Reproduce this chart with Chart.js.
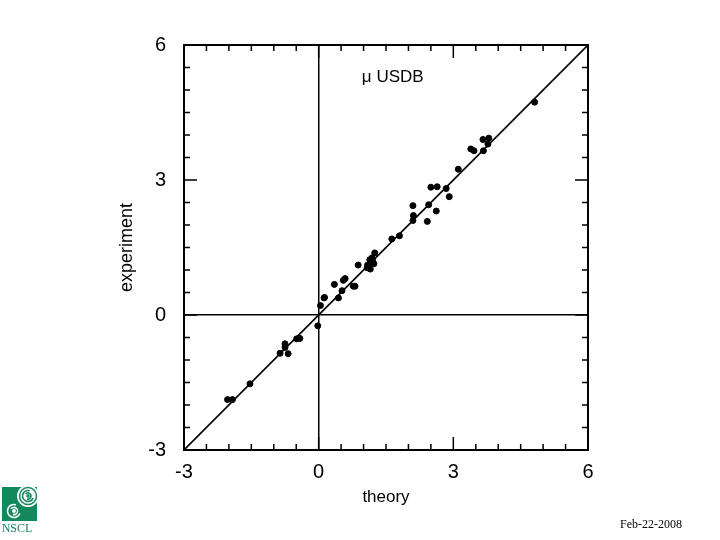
<!DOCTYPE html>
<html>
<head>
<meta charset="utf-8">
<script src="https://cdn.jsdelivr.net/npm/chart.js@4.4.1/dist/chart.umd.min.js"></script>
<style>
  html, body { margin: 0; padding: 0; background: #fff; }
  #wrap { width: 720px; height: 540px; position: relative; }
</style>
</head>
<body>
<div id="wrap"><canvas id="chart" width="720" height="540"></canvas></div>
<script>
// magnetic moments, USDB theory vs experiment
const theory = [4.81, 3.66, 3.79, 3.77, 3.67, 3.39, 3.46, 3.11, 2.50, 2.64,
  2.84, 2.91, 2.45, 2.62, 2.10, 2.11, 2.10, 2.42, 1.80, 1.63,
  1.25, 1.19, 1.14, 1.20, 1.23, 1.09, 1.15, 1.08, 0.88, 0.59,
  0.55, 0.35, 0.77, 0.81, 0.52, 0.44, 0.13, 0.12, 0.04, -0.02,
  -0.42, -0.49, -0.75, -0.75, -0.86, -0.68, -1.53, -2.03, -1.92];
const experiment = [4.73, 3.90, 3.93, 3.80, 3.65, 3.69, 3.65, 3.24, 2.84, 2.85,
  2.81, 2.63, 2.45, 2.31, 2.43, 2.21, 2.10, 2.08, 1.76, 1.69,
  1.38, 1.27, 1.23, 1.21, 1.14, 1.11, 1.02, 1.05, 1.11, 0.81,
  0.77, 0.68, 0.64, 0.64, 0.54, 0.38, 0.39, 0.38, 0.21, -0.24,
  -0.52, -0.53, -0.64, -0.72, -0.85, -0.86, -1.53, -1.88, -1.88];
const diagonal = [-3, 6];
const tickLabels = [-3, 0, 3, 6];

const points = theory.map((t, i) => ({ x: t, y: experiment[i] }));
const line = diagonal.map((v) => ({ x: v, y: v }));

function swirl(ctx, cx, cy, r, color) {
  ctx.strokeStyle = color;
  ctx.lineWidth = 1.6;
  ctx.beginPath(); ctx.arc(cx, cy, r, 0.4, Math.PI * 1.6); ctx.stroke();
  ctx.beginPath(); ctx.arc(cx, cy, r * 0.55, Math.PI * 1.2, Math.PI * 2.6); ctx.stroke();
  ctx.beginPath(); ctx.arc(cx, cy, r * 0.18, 0, Math.PI * 2); ctx.stroke();
}

// frame, inward tick marks, label and logo
const decor = {
  id: "decor",
  afterDraw(chart) {
    const { ctx, chartArea: a, scales } = chart;
    const xs = scales.x, ys = scales.y;
    ctx.save();
    ctx.strokeStyle = "#000";
    ctx.lineWidth = 1.5;
    for (let v = -3; v <= 6.001; v += 0.5) {
      const major = Math.abs(v % 3) < 0.001;
      const len = major ? 13 : 6;
      const px = xs.getPixelForValue(v);
      const py = ys.getPixelForValue(v);
      ctx.beginPath();
      ctx.moveTo(px, a.top); ctx.lineTo(px, a.top + len);
      ctx.moveTo(px, a.bottom); ctx.lineTo(px, a.bottom - len);
      ctx.moveTo(a.left, py); ctx.lineTo(a.left + len, py);
      ctx.moveTo(a.right, py); ctx.lineTo(a.right - len, py);
      ctx.stroke();
    }
    ctx.lineWidth = 2;
    ctx.strokeRect(a.left, a.top, a.right - a.left, a.bottom - a.top);

    ctx.fillStyle = "#000";
    ctx.font = "17px 'Liberation Sans', Arial, sans-serif";
    ctx.textAlign = "center";
    ctx.textBaseline = "middle";
    ctx.fillText("\u03bc USDB", xs.getPixelForValue(1.65), ys.getPixelForValue(5.28));

    ctx.font = "12px 'Liberation Serif', 'Times New Roman', serif";
    ctx.textAlign = "left";
    ctx.fillText("Feb-22-2008", 620, 525);

    // NSCL logo
    const green = "#13875d";
    ctx.fillStyle = green;
    ctx.fillRect(2, 487, 35, 34);
    ctx.fillStyle = "#fff";
    ctx.beginPath(); ctx.arc(28, 496, 11, 0, Math.PI * 2); ctx.fill();
    ctx.strokeStyle = green; ctx.lineWidth = 1.5;
    ctx.beginPath(); ctx.arc(28, 496, 8.5, 0, Math.PI * 2); ctx.stroke();
    swirl(ctx, 28, 496, 5.5, green);
    swirl(ctx, 14, 511, 6.5, "#fff");
    ctx.fillStyle = green;
    ctx.font = "12px 'Liberation Serif', serif";
    ctx.textAlign = "center";
    ctx.fillText("NSCL", 17, 529);
    ctx.restore();
  },
};

new Chart(document.getElementById("chart"), {
  type: "scatter",
  data: {
    datasets: [
      {
        type: "line",
        data: line,
        borderColor: "#000",
        borderWidth: 1.6,
        pointRadius: 0,
        fill: false,
      },
      {
        data: points,
        backgroundColor: "#000",
        borderColor: "#000",
        pointRadius: 3,
        pointHoverRadius: 3,
      },
    ],
  },
  options: {
    responsive: false,
    animation: false,
    layout: { padding: { top: 45, right: 132, left: 108, bottom: 0 } },
    plugins: { legend: { display: false }, tooltip: { enabled: false } },
    scales: {
      x: {
        type: "linear",
        min: -3,
        max: 6,
        afterFit: (s) => { s.height = 90; },
        afterBuildTicks: (s) => { s.ticks = tickLabels.map((v) => ({ value: v })); },
        border: { display: false },
        grid: {
          drawTicks: false,
          lineWidth: 1.5,
          color: (c) => (c.tick && c.tick.value === 0 ? "#000" : "rgba(0,0,0,0)"),
        },
        ticks: {
          color: "#000",
          padding: 10,
          font: { family: "'Liberation Sans', Arial, sans-serif", size: 20 },
        },
        title: {
          display: true,
          text: "theory",
          color: "#000",
          padding: { top: 0, bottom: 32 },
          font: { family: "'Liberation Sans', Arial, sans-serif", size: 17 },
        },
      },
      y: {
        type: "linear",
        min: -3,
        max: 6,
        afterFit: (s) => { s.width = 76; },
        afterBuildTicks: (s) => { s.ticks = tickLabels.map((v) => ({ value: v })); },
        border: { display: false },
        grid: {
          drawTicks: false,
          lineWidth: 1.5,
          color: (c) => (c.tick && c.tick.value === 0 ? "#000" : "rgba(0,0,0,0)"),
        },
        ticks: {
          color: "#000",
          padding: 18,
          font: { family: "'Liberation Sans', Arial, sans-serif", size: 20 },
        },
        title: {
          display: true,
          text: "experiment",
          color: "#000",
          padding: { top: 8, bottom: 0 },
          font: { family: "'Liberation Sans', Arial, sans-serif", size: 18 },
        },
      },
    },
  },
  plugins: [decor],
});
</script>
</body>
</html>
